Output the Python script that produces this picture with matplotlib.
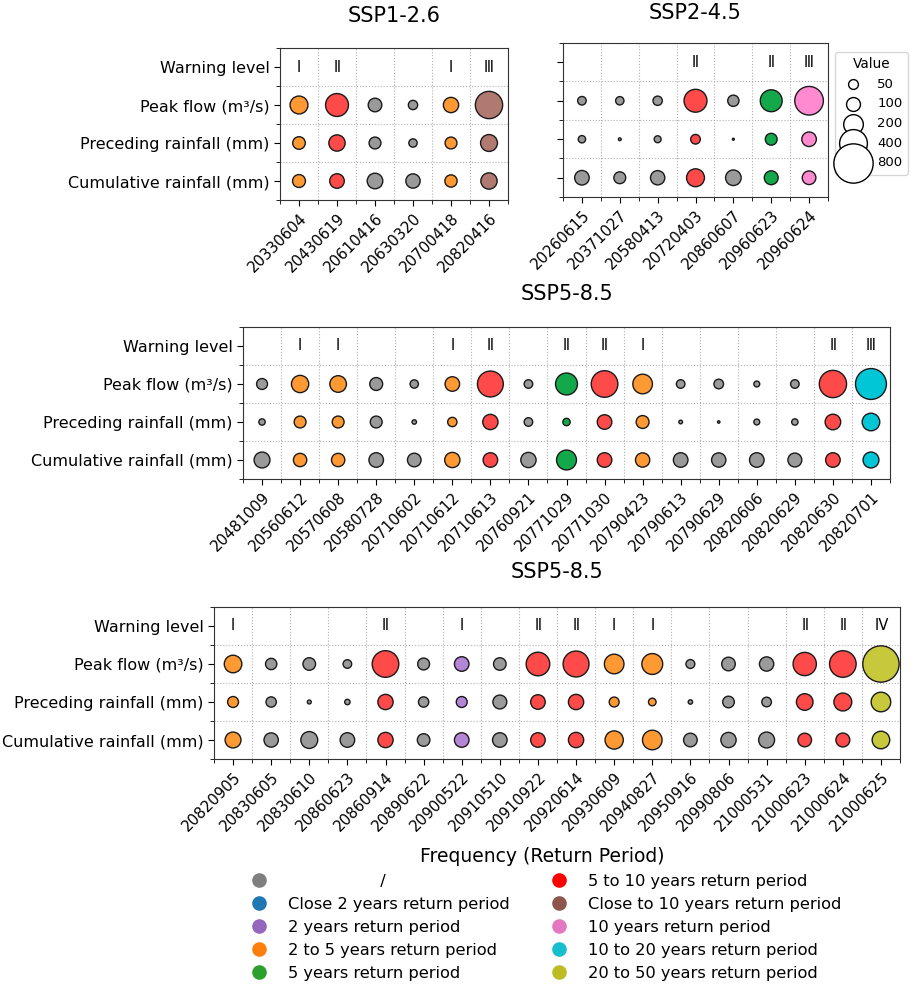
import matplotlib
matplotlib.use("Agg")
import matplotlib.pyplot as plt
from matplotlib.lines import Line2D
import numpy as np

# --- data -----------------------------------------------------------------
rows = ["Cumulative rainfall (mm)", "Preceding rainfall (mm)", "Peak flow (m³/s)", "Warning level"]

cat_keys = ["none", "c2", "p2", "p2_5", "p5", "p5_10", "c10", "p10", "p10_20", "p20_50"]
cat_labels = [" " * 18 + "/", "Close 2 years return period", "2 years return period",
              "2 to 5 years return period", "5 years return period",
              "5 to 10 years return period", "Close to 10 years return period",
              "10 years return period", "10 to 20 years return period",
              "20 to 50 years return period"]
# legend dot colours / circle fill colours
cat_colors = ["tab:gray", "tab:blue", "tab:purple", "tab:orange", "tab:green",
              "red", "tab:brown", "tab:pink", "tab:cyan", "tab:olive"]
fill_colors = ["#9a9a9a", "#4a90c8", "#b585d6", "#ff9933", "#13a84a",
               "#ff4a4a", "#b07a70", "#ff8ad0", "#00c6d6", "#c8c83c"]

# SSP1-2.6
p1_dates = ["20330604", "20430619", "20610416", "20630320", "20700418", "20820416"]
p1_warn = ["Ⅰ", "Ⅱ", "", "", "Ⅰ", "Ⅲ"]
p1_cat = ["p2_5", "p5_10", "none", "none", "p2_5", "c10"]
p1_peak = [166, 272, 96, 45, 121, 386]
p1_prec = [82, 138, 73, 36, 73, 148]
p1_cum = [86, 110, 126, 106, 78, 138]

# SSP2-4.5
p2_dates = ["20260615", "20371027", "20580413", "20720403", "20860607", "20960623", "20960624"]
p2_warn = ["", "", "", "Ⅱ", "", "Ⅱ", "Ⅲ"]
p2_cat = ["none", "none", "none", "p5_10", "none", "p5", "p10"]
p2_peak = [38, 36, 45, 272, 66, 249, 424]
p2_prec = [28, 4, 25, 48, 2, 73, 110]
p2_cum = [110, 73, 106, 166, 126, 100, 96]

# SSP5-8.5 (first half)
p3_dates = ["20481009", "20560612", "20570608", "20580728", "20710602", "20710612",
            "20710613", "20760921", "20771029", "20771030", "20790423", "20790613",
            "20790629", "20820606", "20820629", "20820630", "20820701"]
p3_warn = ["", "Ⅰ", "Ⅰ", "", "", "Ⅰ", "Ⅱ", "", "Ⅱ", "Ⅱ", "Ⅰ", "", "", "", "", "Ⅱ", "Ⅲ"]
p3_cat = ["none", "p2_5", "p2_5", "none", "none", "p2_5", "p5_10", "none", "p5",
          "p5_10", "p2_5", "none", "none", "none", "none", "p5_10", "p10_20"]
p3_peak = [62, 155, 143, 86, 36, 110, 348, 38, 249, 367, 199, 38, 48, 18, 38, 386, 495]
p3_prec = [21, 73, 73, 73, 10, 45, 121, 38, 28, 110, 86, 7, 3, 18, 21, 126, 160]
p3_cum = [131, 92, 92, 110, 96, 121, 110, 121, 205, 110, 106, 110, 106, 110, 100, 110, 131]

# SSP5-8.5 (second half)
p4_dates = ["20820905", "20830605", "20830610", "20860623", "20860914", "20890622",
            "20900522", "20910510", "20910922", "20920614", "20930609", "20940827",
            "20950916", "20990806", "21000531", "21000623", "21000624", "21000625"]
p4_warn = ["Ⅰ", "", "", "", "Ⅱ", "", "Ⅰ", "", "Ⅱ", "Ⅱ", "Ⅰ", "Ⅰ", "", "", "", "Ⅱ", "Ⅱ", "Ⅳ"]
p4_cat = ["p2_5", "none", "none", "none", "p5_10", "none", "p2", "none", "p5_10",
          "p5_10", "p2_5", "p2_5", "none", "none", "none", "p5_10", "p5_10", "p20_50"]
p4_peak = [160, 66, 82, 38, 367, 73, 110, 82, 288, 348, 199, 226, 41, 96, 106, 281, 367, 683]
p4_prec = [62, 55, 8, 15, 121, 55, 62, 100, 110, 121, 51, 30, 10, 70, 48, 143, 166, 199]
p4_cum = [131, 106, 148, 110, 121, 82, 110, 110, 110, 121, 173, 199, 96, 121, 131, 96, 100, 160]

size_legend = [50, 100, 200, 400, 800]

fill_of = dict(zip(cat_keys, fill_colors))


def panel(ax, title, dates, warn, cats, peak, prec, cum, ylabels=True, pad=19):
    n = len(dates)
    x = np.arange(n)
    cols = [fill_of[c] for c in cats]
    for yrow, vals in zip([2, 1, 0], [peak, prec, cum]):
        ax.scatter(x, np.full(n, yrow), s=vals, c=cols,
                   edgecolors="#1a1a1a", linewidths=1, zorder=3)
    for i, w in enumerate(warn):
        if w:
            ax.text(i, 3, w, ha="center", va="center", fontsize=10.5)
    ax.set_xlim(-0.5, n - 0.5)
    ax.set_ylim(-0.5, 3.5)
    ax.set_xticks(x)
    ax.set_xticklabels(dates, rotation=45, ha="right", rotation_mode="anchor",
                       fontsize=10.8)
    ax.set_xticks(np.arange(n + 1) - 0.5, minor=True)
    ax.set_yticks([0, 1, 2, 3])
    ax.set_yticks([-0.5, 0.5, 1.5, 2.5, 3.5], minor=True)
    if ylabels:
        ax.set_yticklabels(rows, fontsize=11.5)
    else:
        ax.set_yticklabels([])
    ax.grid(which="minor", color="#b0b0b0", linestyle=":", linewidth=0.8)
    ax.tick_params(which="major", length=4)
    ax.tick_params(which="minor", length=3)
    for sp in ax.spines.values():
        sp.set_color("#333333")
    ax.set_title(title, fontsize=15, pad=pad)


fig = plt.figure(figsize=(9.13, 9.88), dpi=100)
W, H = 913, 988


def box(l, r, t, b):
    return [l / W, 1 - b / H, (r - l) / W, (b - t) / H]


ax1 = fig.add_axes(box(280, 508, 48, 200))
ax2 = fig.add_axes(box(563, 828, 43, 197))
ax3 = fig.add_axes(box(243, 890, 327, 479))
ax4 = fig.add_axes(box(214, 900, 607, 759))

panel(ax1, "SSP1-2.6", p1_dates, p1_warn, p1_cat, p1_peak, p1_prec, p1_cum, pad=18.7)
panel(ax2, "SSP2-4.5", p2_dates, p2_warn, p2_cat, p2_peak, p2_prec, p2_cum,
      ylabels=False, pad=17)
panel(ax3, "SSP5-8.5", p3_dates, p3_warn, p3_cat, p3_peak, p3_prec, p3_cum, pad=19.4)
panel(ax4, "SSP5-8.5", p4_dates, p4_warn, p4_cat, p4_peak, p4_prec, p4_cum, pad=21)

# size legend
size_handles = [ax2.scatter([], [], s=v, facecolors="white", edgecolors="black",
                            linewidths=1) for v in size_legend]
ax2.legend(size_handles, [str(v) for v in size_legend], title="Value",
           loc="upper left", bbox_to_anchor=(835 / W, 1 - 52 / H),
           bbox_transform=fig.transFigure, fontsize=9.5, title_fontsize=9.8,
           borderaxespad=0)

# frequency legend
freq_handles = [Line2D([], [], marker="o", linestyle="", markersize=9.5, color=c)
                for c in cat_colors]
fig.legend(freq_handles, cat_labels, ncol=2, loc="upper center",
           bbox_to_anchor=(542 / W, 1 - 840 / H), frameon=False,
           title="Frequency (Return Period)", fontsize=11.7, title_fontsize=13.5,
           borderaxespad=0)

fig.savefig("out.png", dpi=100)
